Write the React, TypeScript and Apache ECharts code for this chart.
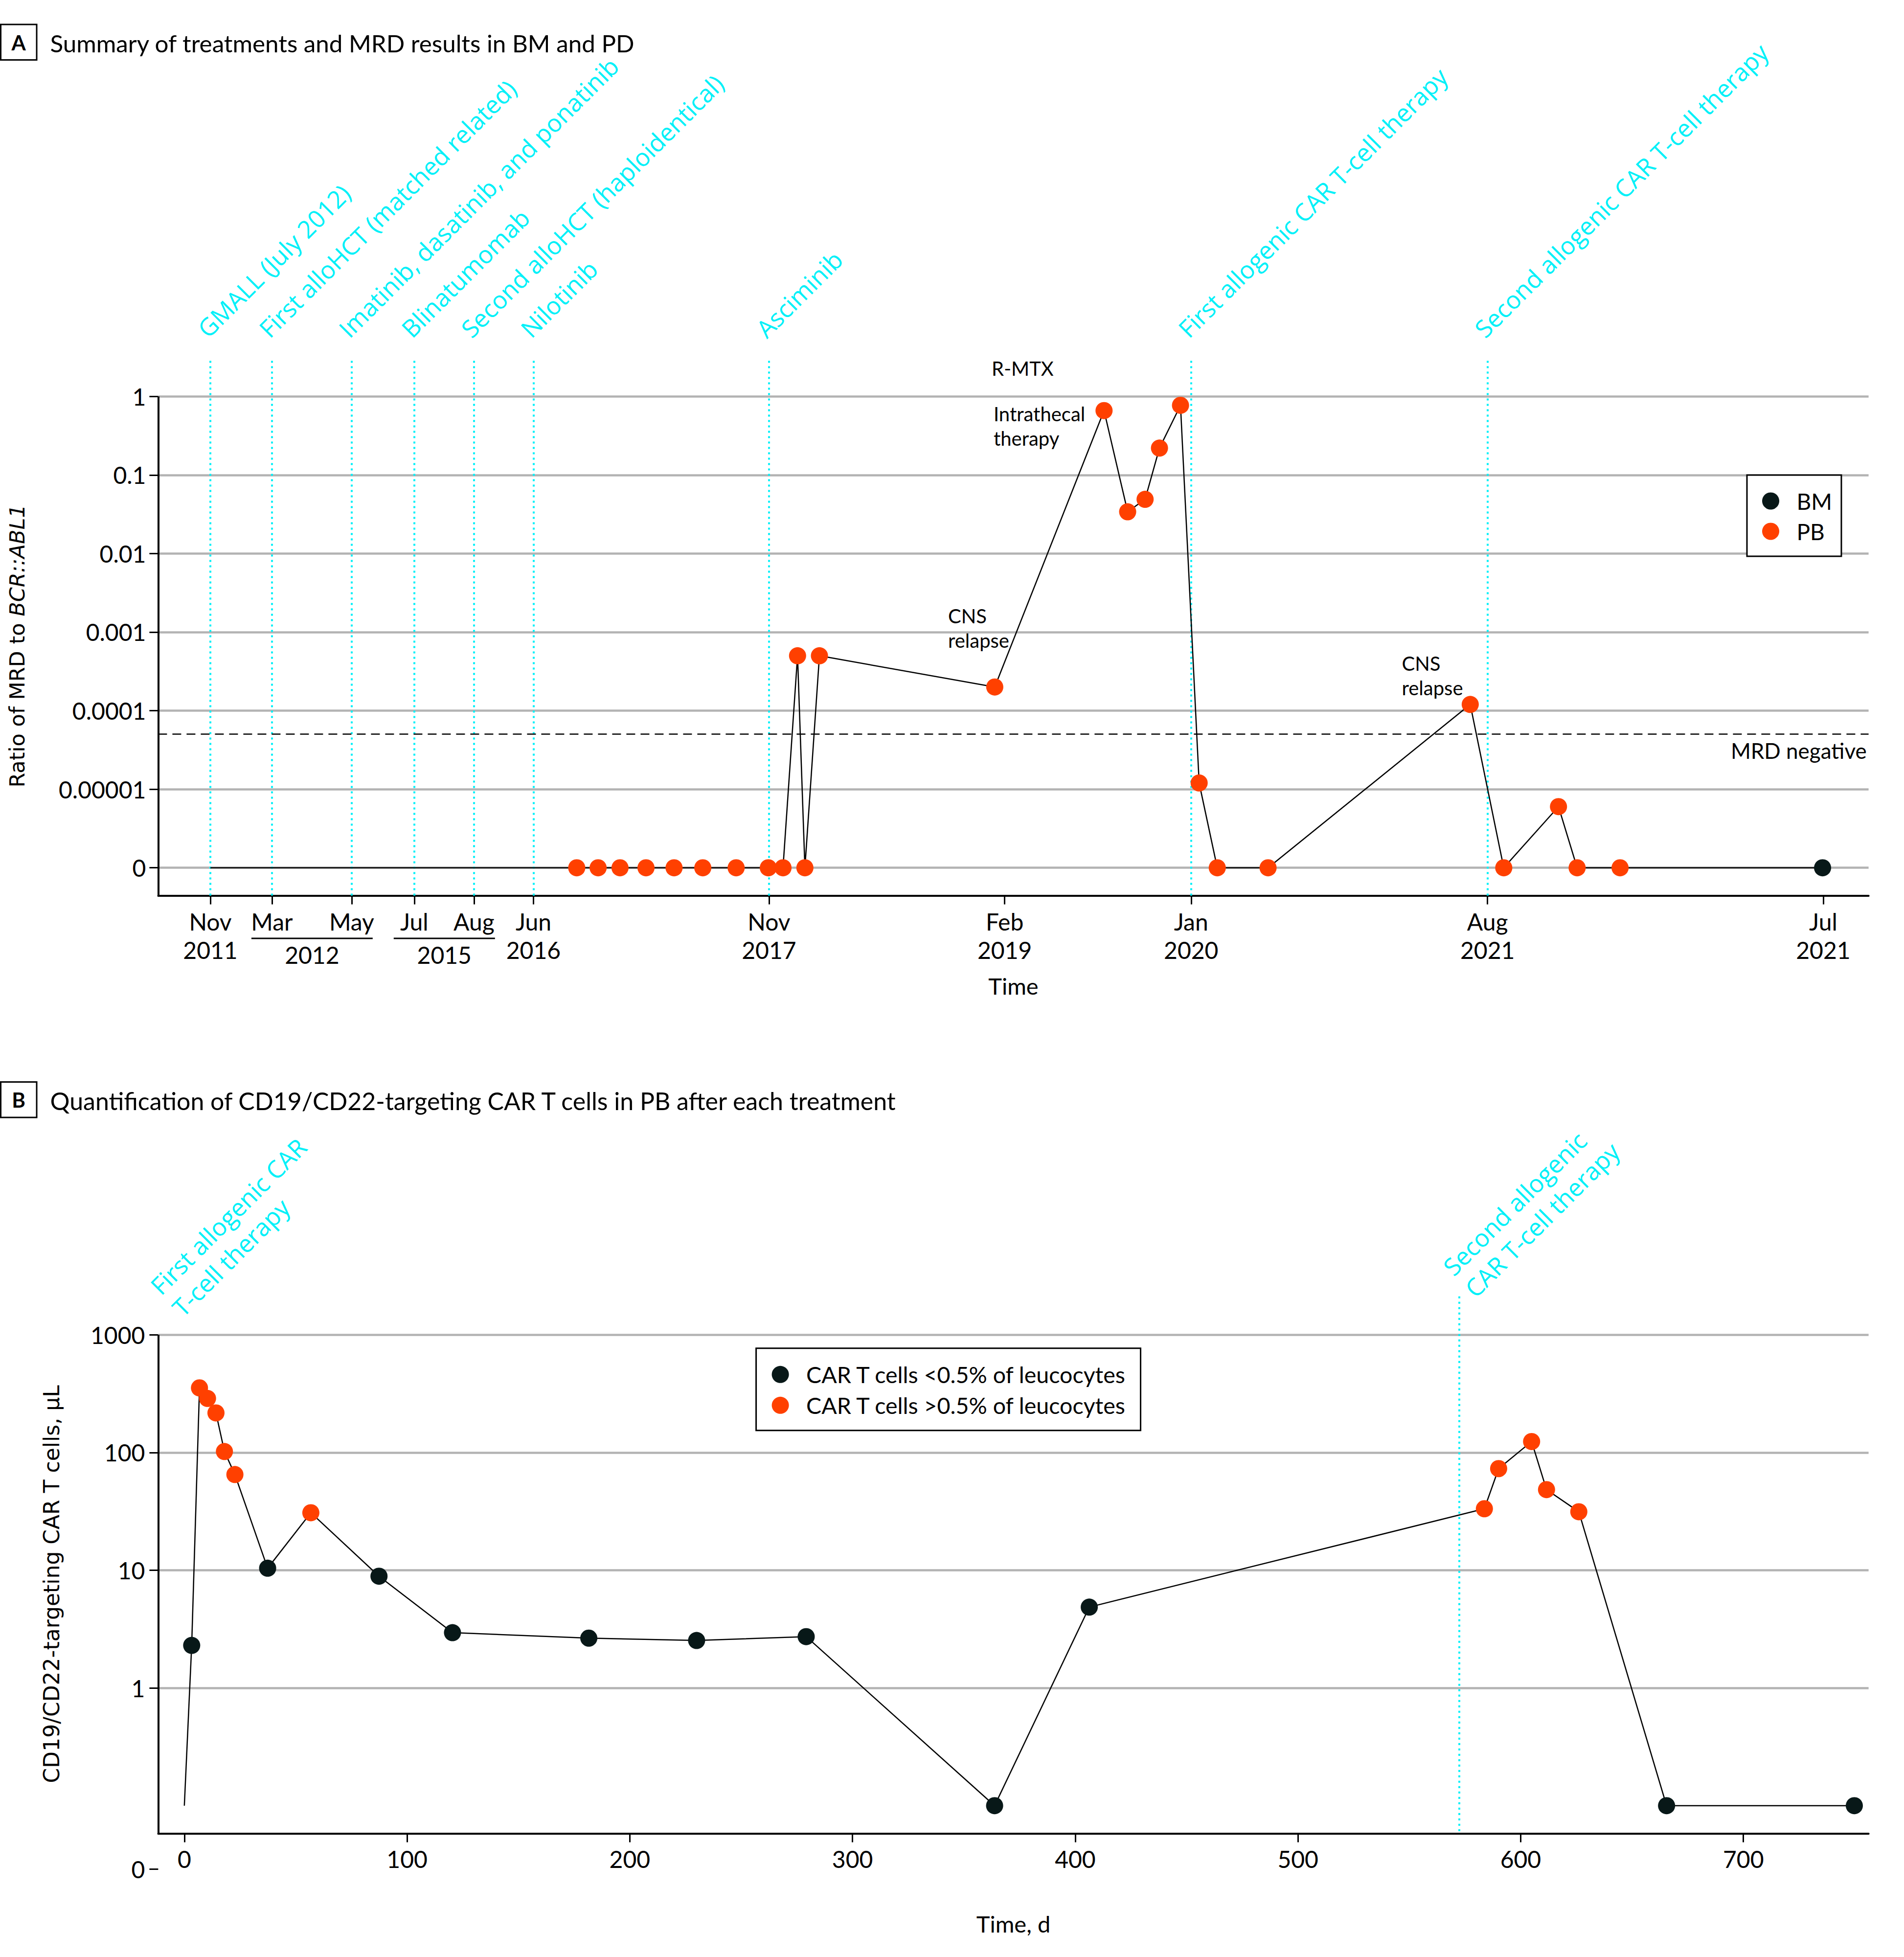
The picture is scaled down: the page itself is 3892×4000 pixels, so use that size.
import React, { useEffect, useRef } from 'react';
import * as echarts from 'echarts';

// ---------------- Panel A: data ----------------
const A_TICK_POS = [30.5, 66.5, 113.1, 149.7, 184.6, 219.4, 357.1, 494.9, 603.9, 777.2, 973.5];
const A_TICK_MONTH = ['Nov', 'Mar', 'May', 'Jul', 'Aug', 'Jun', 'Nov', 'Feb', 'Jan', 'Aug', 'Jul'];
const A_TICK_YEAR = ['2011', '', '', '', '', '2016', '2017', '2019', '2020', '2021', '2021'];
const A_GROUP_YEAR = ['2012', '2015'];
const A_GROUP_FIRST_TICK = [1, 3];
const A_GROUP_LAST_TICK = [2, 4];

const TREATMENT_NAMES = [
  'GMALL (July 2012)',
  'First alloHCT (matched related)',
  'Imatinib, dasatinib, and ponatinib',
  'Blinatumomab',
  'Second alloHCT (haploidentical)',
  'Nilotinib',
  'Asciminib',
  'First allogenic CAR T-cell therapy',
  'Second allogenic CAR T-cell therapy',
];
const TREATMENT_POS = [30.5, 66.5, 113.1, 149.7, 184.6, 219.4, 357.1, 603.9, 777.2];

const MRD_TICK_VALUES = [1, 0.1, 0.01, 0.001, 0.0001, 0.00001, 0];
const MRD_TICK_LABELS = ['1', '0.1', '0.01', '0.001', '0.0001', '0.00001', '0'];
const MRD_NEGATIVE = 0.00005;

const MRD_POS = [30.5, 244.7, 257.2, 270.0, 285.2, 301.6, 318.4, 337.9, 356.7, 365.3, 373.8, 378.1, 386.6,
  489.1, 553.0, 566.8, 577.0, 585.4, 597.7, 608.6, 619.2, 648.9, 767.1, 786.7, 818.7, 829.6, 854.7, 973.1];
const MRD_VALUE = [0, 0, 0, 0, 0, 0, 0, 0, 0, 0, 0.0005, 0, 0.0005,
  0.0002, 0.66, 0.034, 0.049, 0.22, 0.77, 0.000012, 0, 0, 0.00012, 0, 0.000006, 0, 0, 0];
const MRD_SAMPLE = ['', 'PB', 'PB', 'PB', 'PB', 'PB', 'PB', 'PB', 'PB', 'PB', 'PB', 'PB', 'PB',
  'PB', 'PB', 'PB', 'PB', 'PB', 'PB', 'PB', 'PB', 'PB', 'PB', 'PB', 'PB', 'PB', 'PB', 'BM'];

const MRD_NOTE_TEXT = ['R-MTX', 'Intrathecal\ntherapy', 'CNS\nrelapse', 'CNS\nrelapse', 'MRD negative'];
const MRD_NOTE_POS = [487.3, 488.4, 461.8, 727.1, 998.9];
const MRD_NOTE_LEVEL = [2.26, 0.416, 0.00112, 0.000279, 0.0000313];
const MRD_NOTE_ALIGN = ['left', 'left', 'left', 'left', 'right'];

// ---------------- Panel B: data ----------------
const CAR_X_TICKS = [0, 100, 200, 300, 400, 500, 600, 700];
const CAR_Y_TICK_VALUES = [1000, 100, 10, 1, 0];
const CAR_Y_TICK_LABELS = ['1000', '100', '10', '1', '0'];

const CAR_DAY = [0, 3.3, 6.8, 10.4, 14.2, 18.0, 22.7, 37.4, 56.8, 87.4, 120.4, 181.6, 230.0, 279.2,
  363.8, 406.3, 583.7, 590.1, 604.9, 611.6, 626.1, 665.5, 749.8];
const CAR_CELLS = [0.1, 2.3, 354, 288, 217, 102, 65, 10.4, 30.8, 8.9, 2.95, 2.65, 2.53, 2.73,
  0.1, 4.86, 33.3, 73, 124, 48.4, 31.4, 0.1, 0.1];
const CAR_SHARE = ['', 'low', 'high', 'high', 'high', 'high', 'high', 'low', 'high', 'low', 'low', 'low', 'low', 'low',
  'low', 'low', 'high', 'high', 'high', 'high', 'high', 'low', 'low'];

const CAR_THERAPY_LINES = [['First allogenic CAR', 'T-cell therapy'], ['Second allogenic', 'CAR T-cell therapy']];
const CAR_THERAPY_DAY = [0, 572.3];
const CAR_THERAPY_MARKED = [false, true];

const LEGEND_A = ['BM', 'PB'];
const LEGEND_B = ['CAR T cells <0.5% of leucocytes', 'CAR T cells >0.5% of leucocytes'];

// ---------------- styling / layout ----------------
const FONT = 'Lato, "Noto Sans", sans-serif';
const WIDE = '"DejaVu Sans", Verdana, sans-serif';
const CYAN_FONT = '"Open Sans", "DejaVu Sans", sans-serif';
const ORANGE = '#FF4000';
const DARK = '#081818';
const CYAN = '#00F0F8';
const GRID_GRAY = '#B3B3B3';
const W = 3892;
const H = 4000;
const TICK_FS = 48;

const A_X_MIN = 0, A_X_MAX = 1000, A_Y_MIN = -6.354, A_Y_MAX = 0.496;
const B_X_MIN = -11.73, B_X_MAX = 756.2, B_Y_MIN = -1.539, B_Y_MAX = 3.326, B_AXIS_LEVEL = -1.236;

const mrdY = (v: number) => (v <= 0 ? -6 : Math.log10(v));
const carY = (v: number) => (v <= 0 ? B_Y_MIN : Math.log10(v));
const nearest = (arr: number[], v: number) => {
  let best = 0;
  arr.forEach((a, i) => { if (Math.abs(a - v) < Math.abs(arr[best] - v)) best = i; });
  return best;
};

const CYAN_FS = 50;
const ROT_LINE = 63;
const S45 = Math.SQRT1_2;

function rotatedText(lines: string[], bx: number, by: number) {
  const mid = 0.29 * CYAN_FS * S45;
  return lines.map((t, k) => ({
    type: 'text',
    x: bx + k * ROT_LINE * S45 - mid,
    y: by + k * ROT_LINE * S45 - mid,
    rotation: Math.PI / 4,
    silent: true,
    style: { text: t, fill: CYAN, fontFamily: CYAN_FONT, fontSize: CYAN_FS, align: 'left', verticalAlign: 'middle' },
  }));
}

const hidden = { show: false };
const tickStyle = { color: '#000', width: 3 };
const labelBase = { fontFamily: FONT, fontSize: TICK_FS, color: '#000' };

export default function App() {
  const ref = useRef<HTMLDivElement>(null);
  useEffect(() => {
    document.body.style.margin = '0';
    document.body.style.overflow = 'hidden';
    const chart = echarts.init(ref.current!, null, { renderer: 'svg', width: W, height: H });

    const mrdLine = MRD_POS.map((x, i) => [x, mrdY(MRD_VALUE[i])]);
    const mrdPB = MRD_POS.map((x, i) => [x, mrdY(MRD_VALUE[i]), MRD_SAMPLE[i]]).filter((d) => d[2] === 'PB').map((d) => [d[0], d[1]]);
    const mrdBM = MRD_POS.map((x, i) => [x, mrdY(MRD_VALUE[i]), MRD_SAMPLE[i]]).filter((d) => d[2] === 'BM').map((d) => [d[0], d[1]]);
    const carLine = CAR_DAY.map((d, i) => [d, carY(CAR_CELLS[i])]);
    const carLow = CAR_DAY.map((d, i) => [d, carY(CAR_CELLS[i]), CAR_SHARE[i]]).filter((d) => d[2] === 'low').map((d) => [d[0], d[1]]);
    const carHigh = CAR_DAY.map((d, i) => [d, carY(CAR_CELLS[i]), CAR_SHARE[i]]).filter((d) => d[2] === 'high').map((d) => [d[0], d[1]]);

    const legendCommon = {
      orient: 'vertical',
      icon: 'circle',
      itemWidth: 96,
      itemHeight: 35,
      itemGap: 16,
      borderColor: '#000',
      borderWidth: 3,
      symbolKeepAspect: true,
      backgroundColor: '#fff',
    };
    const dot = (color: string) => ({ color, opacity: 1 });

    const option: any = {
      animation: false,
      backgroundColor: '#fff',
      grid: [
        { left: 323.4, top: 730.6, width: 3496.2, height: 1099.9 },
        { left: 323.4, top: 2649.8, width: 3496.2, height: 1170.6 },
      ],
      legend: [
        { ...legendCommon, data: LEGEND_A, left: 3571, top: 971, padding: [30, 19, 28, 31],
          textStyle: { fontFamily: FONT, fontSize: 46, lineHeight: 46, color: '#000' } },
        { ...legendCommon, data: LEGEND_B, left: 1545.6, top: 2755.8, padding: [30, 28, 28, 32],
          textStyle: { fontFamily: FONT, fontSize: 46.5, lineHeight: 46, color: '#000' } },
      ],
      xAxis: [
        {
          gridIndex: 0, type: 'value', min: A_X_MIN, max: A_X_MAX,
          axisLine: { onZero: false, lineStyle: { color: '#000', width: 4 } },
          axisTick: { customValues: A_TICK_POS, length: 18, lineStyle: tickStyle },
          axisLabel: {
            ...labelBase, customValues: A_TICK_POS, margin: 24, lineHeight: 58,
            formatter: (v: number) => {
              const i = nearest(A_TICK_POS, v);
              return A_TICK_YEAR[i] ? A_TICK_MONTH[i] + '\n' + A_TICK_YEAR[i] : A_TICK_MONTH[i];
            },
          },
          splitLine: hidden,
          name: 'Time', nameLocation: 'middle', nameGap: 161,
          nameTextStyle: { fontFamily: FONT, fontSize: 47, lineHeight: 46, color: '#000' },
        },
        {
          gridIndex: 1, type: 'value', min: B_X_MIN, max: B_X_MAX, offset: -72.9,
          axisLine: { onZero: false, lineStyle: { color: '#000', width: 4 } },
          axisTick: { customValues: CAR_X_TICKS, length: 18, lineStyle: tickStyle },
          axisLabel: { ...labelBase, customValues: CAR_X_TICKS, margin: 29, lineHeight: 46 },
          splitLine: hidden,
          name: 'Time, d', nameLocation: 'middle', nameGap: 161,
          nameTextStyle: { fontFamily: FONT, fontSize: 47, lineHeight: 46, color: '#000' },
        },
      ],
      yAxis: [
        {
          gridIndex: 0, type: 'value', min: A_Y_MIN, max: A_Y_MAX,
          axisLine: { show: false, onZero: false },
          axisTick: { show: true, customValues: MRD_TICK_VALUES.map(mrdY), length: 18, lineStyle: tickStyle },
          axisLabel: {
            ...labelBase, customValues: MRD_TICK_VALUES.map(mrdY), margin: 25,
            formatter: (v: number) => MRD_TICK_LABELS[nearest(MRD_TICK_VALUES.map(mrdY), v)],
          },
          splitLine: hidden,
        },
        {
          gridIndex: 1, type: 'value', min: B_Y_MIN, max: B_Y_MAX,
          axisLine: { show: false, onZero: false },
          axisTick: { show: true, customValues: CAR_Y_TICK_VALUES.map(carY), length: 18, lineStyle: tickStyle },
          axisLabel: {
            ...labelBase, customValues: CAR_Y_TICK_VALUES.map(carY), margin: 27,
            formatter: (v: number) => CAR_Y_TICK_LABELS[nearest(CAR_Y_TICK_VALUES.map(carY), v)],
          },
          splitLine: hidden,
        },
      ],
      series: [
        // Panel A gridlines
        {
          type: 'line', xAxisIndex: 0, yAxisIndex: 0, data: [[A_X_MIN, A_Y_MIN]], symbol: 'none', z: 1, silent: true, clip: false,
          lineStyle: { opacity: 0 },
          markLine: {
            z: 1, silent: true, symbol: ['none', 'none'], label: { show: false },
            lineStyle: { color: GRID_GRAY, width: 4.5, type: 'solid' },
            data: MRD_TICK_VALUES.map((v) => ({ yAxis: mrdY(v) })),
          },
        },
        // Panel A decorations: treatment lines, y-axis line, MRD negative threshold
        {
          type: 'line', xAxisIndex: 0, yAxisIndex: 0, data: [[A_X_MIN, A_Y_MIN]], symbol: 'none', z: 2, silent: true, clip: false,
          lineStyle: { opacity: 0 },
          markLine: {
            z: 2, silent: true, symbol: ['none', 'none'], label: { show: false },
            data: [
              ...TREATMENT_POS.map((x) => ({ xAxis: x, lineStyle: { color: CYAN, width: 4, type: [4, 7] } })),
              { yAxis: mrdY(MRD_NEGATIVE), lineStyle: { color: '#000', width: 2.5, type: [18, 11] } },
              [
                { coord: [A_X_MIN, mrdY(1)], lineStyle: { color: '#000', width: 4, type: 'solid' } },
                { coord: [A_X_MIN, A_Y_MIN] },
              ],
            ],
          },
        },
        {
          type: 'line', xAxisIndex: 0, yAxisIndex: 0, data: mrdLine, symbol: 'none', z: 3, silent: true,
          lineStyle: { color: '#000', width: 2.5 },
        },
        {
          name: 'PB', type: 'scatter', xAxisIndex: 0, yAxisIndex: 0, data: mrdPB, symbol: 'circle', symbolSize: 35, z: 4,
          itemStyle: dot(ORANGE),
        },
        {
          name: 'BM', type: 'scatter', xAxisIndex: 0, yAxisIndex: 0, data: mrdBM, symbol: 'circle', symbolSize: 35, z: 4,
          itemStyle: dot(DARK),
        },
        // Panel B gridlines
        {
          type: 'line', xAxisIndex: 1, yAxisIndex: 1, data: [[B_X_MIN, B_Y_MIN]], symbol: 'none', z: 1, silent: true, clip: false,
          lineStyle: { opacity: 0 },
          markLine: {
            z: 1, silent: true, symbol: ['none', 'none'], label: { show: false },
            lineStyle: { color: GRID_GRAY, width: 4.5, type: 'solid' },
            data: CAR_Y_TICK_VALUES.map((v) => ({ yAxis: carY(v) })),
          },
        },
        // Panel B decorations
        {
          type: 'line', xAxisIndex: 1, yAxisIndex: 1, data: [[B_X_MIN, B_Y_MIN]], symbol: 'none', z: 2, silent: true, clip: false,
          lineStyle: { opacity: 0 },
          markLine: {
            z: 2, silent: true, symbol: ['none', 'none'], label: { show: false },
            data: [
              ...CAR_THERAPY_DAY.filter((_, i) => CAR_THERAPY_MARKED[i]).map((d) => [
                { coord: [d, B_Y_MAX], lineStyle: { color: CYAN, width: 4, type: [4, 7] } },
                { coord: [d, B_AXIS_LEVEL] },
              ]),
              [
                { coord: [B_X_MIN, carY(1000)], lineStyle: { color: '#000', width: 4, type: 'solid' } },
                { coord: [B_X_MIN, B_AXIS_LEVEL] },
              ],
            ],
          },
        },
        {
          type: 'line', xAxisIndex: 1, yAxisIndex: 1, data: carLine, symbol: 'none', z: 3, silent: true,
          lineStyle: { color: '#000', width: 2.5 },
        },
        {
          name: LEGEND_B[0], type: 'scatter', xAxisIndex: 1, yAxisIndex: 1, data: carLow, symbol: 'circle', symbolSize: 35, z: 4,
          itemStyle: dot(DARK),
        },
        {
          name: LEGEND_B[1], type: 'scatter', xAxisIndex: 1, yAxisIndex: 1, data: carHigh, symbol: 'circle', symbolSize: 35, z: 4,
          itemStyle: dot(ORANGE),
        },
      ],
    };
    chart.setOption(option);

    // ----- annotations positioned through the chart's own scales -----
    const pA = (x: number, y: number) => chart.convertToPixel({ gridIndex: 0 }, [x, y]) as number[];
    const pB = (x: number, y: number) => chart.convertToPixel({ gridIndex: 1 }, [x, y]) as number[];
    const g: any[] = [];

    // panel letters and titles
    const panelHead = (letter: string, top: number, title: string, fs: number) => {
      g.push({ type: 'rect', shape: { x: 1.5, y: top, width: 73.5, height: 72.6 }, style: { fill: 'none', stroke: '#000', lineWidth: 3 } });
      g.push({ type: 'text', x: 38.2, y: top + 36.5, style: { text: letter, fontFamily: FONT, fontWeight: 'bold', fontSize: 42, fill: '#000', align: 'center', verticalAlign: 'middle' } });
      g.push({ type: 'text', x: 102.5, y: top + 38, style: { text: title, fontFamily: FONT, fontSize: fs, fill: '#000', align: 'left', verticalAlign: 'middle' } });
    };
    panelHead('A', 50, 'Summary of treatments and MRD results in BM and PD', 49.3);
    panelHead('B', 2211.5, 'Quantification of CD19/CD22-targeting CAR T cells in PB after each treatment', 50);

    // y-axis titles
    const aTop = pA(A_X_MIN, mrdY(1))[1], aBot = pA(A_X_MIN, A_Y_MIN)[1];
    g.push({ type: 'text', x: 34.7, y: (aTop + aBot) / 2, rotation: Math.PI / 2,
      style: { text: 'Ratio of MRD to {i|BCR::ABL1}', fontFamily: WIDE, fontSize: 43, fill: '#000', align: 'center', verticalAlign: 'middle',
        rich: { i: { fontStyle: 'italic', fontFamily: WIDE, fontSize: 43, fill: '#000' } } } });
    const bTop = pB(B_X_MIN, carY(1000))[1], bBot = pB(B_X_MIN, B_AXIS_LEVEL)[1];
    g.push({ type: 'text', x: 105.6, y: (bTop + bBot) / 2, rotation: Math.PI / 2,
      style: { text: 'CD19/CD22-targeting CAR T cells, µL', fontFamily: WIDE, fontSize: 44, fill: '#000', align: 'center', verticalAlign: 'middle' } });

    // treatment labels (panel A)
    const aGridTop = pA(A_X_MIN, A_Y_MAX)[1];
    TREATMENT_NAMES.forEach((name, i) => {
      const px = pA(TREATMENT_POS[i], A_Y_MAX)[0];
      g.push(...rotatedText([name], px - 7, aGridTop - 40));
    });

    // grouped year labels below the axis (panel A)
    A_GROUP_YEAR.forEach((yr, k) => {
      const x1 = pA(A_TICK_POS[A_GROUP_FIRST_TICK[k]], A_Y_MIN)[0] - 42;
      const x2 = pA(A_TICK_POS[A_GROUP_LAST_TICK[k]], A_Y_MIN)[0] + 43;
      g.push({ type: 'line', shape: { x1, y1: aBot + 87.5, x2, y2: aBot + 87.5 }, style: { stroke: '#000', lineWidth: 3 } });
      g.push({ type: 'text', x: (x1 + x2) / 2, y: aBot + 121, style: { text: yr, fontFamily: FONT, fontSize: TICK_FS, fill: '#000', align: 'center', verticalAlign: 'middle' } });
    });

    // notes (panel A)
    MRD_NOTE_TEXT.forEach((t, i) => {
      const [x, y] = pA(MRD_NOTE_POS[i], mrdY(MRD_NOTE_LEVEL[i]));
      g.push({ type: 'text', x, y, style: { text: t, fontFamily: FONT, fontSize: i === 4 ? 44 : 40, lineHeight: 50, fill: '#000', align: MRD_NOTE_ALIGN[i], verticalAlign: 'middle' } });
    });

    // CAR T-cell therapy labels (panel B)
    const bGridTop = pB(B_X_MIN, B_Y_MAX)[1];
    const B_LABEL_OFFSET = [[-50, -3], [-13, -42]];
    CAR_THERAPY_LINES.forEach((lines, i) => {
      const px = pB(CAR_THERAPY_DAY[i], B_Y_MAX)[0];
      g.push(...rotatedText(lines, px + B_LABEL_OFFSET[i][0], bGridTop + B_LABEL_OFFSET[i][1]));
    });

    chart.setOption({ graphic: g });
    return () => chart.dispose();
  }, []);
  return <div ref={ref} style={{ width: W, height: H }} />;
}
